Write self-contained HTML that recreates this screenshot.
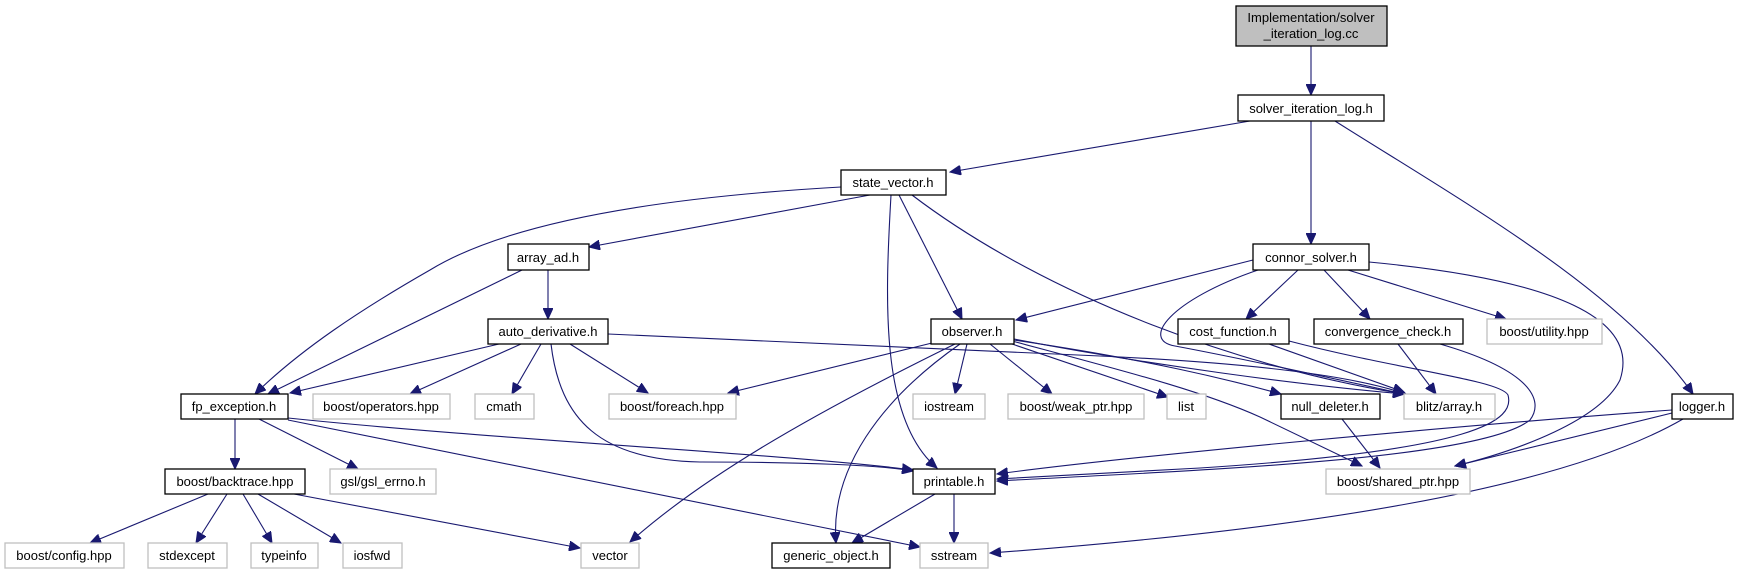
<!DOCTYPE html>
<html><head><meta charset="utf-8"><style>
html,body{margin:0;padding:0;background:#fff;}
svg{display:block;}
text{font-family:"Liberation Sans",sans-serif;font-size:13px;fill:#000;text-anchor:middle;}
.b{fill:#fff;stroke:#000;stroke-width:1.3;}
.g{fill:#fff;stroke:#bfbfbf;stroke-width:1.3;}
.e{fill:none;stroke:#191970;stroke-width:1.1;marker-end:url(#a);}
</style></head><body>
<svg width="1745" height="575" viewBox="0 0 1745 575" xmlns="http://www.w3.org/2000/svg">
<defs><marker id="a" markerUnits="userSpaceOnUse" markerWidth="12" markerHeight="10" refX="11" refY="5" orient="auto"><path d="M0,0 L11,5 L0,10 z" fill="#191970" stroke="#191970"/></marker></defs>
<g>
<path class="e" d="M1311 46 L1311 95"/>
<path class="e" d="M1250 121 L950 172"/>
<path class="e" d="M1311 121 L1311 244"/>
<path class="e" d="M1335 121 C1460 200, 1620 290, 1693 394"/>
<path class="e" d="M841 187 C700 195, 520 215, 430 270 C360 310, 300 350, 255 394"/>
<path class="e" d="M870 195 L589 247"/>
<path class="e" d="M891 195 C885 300, 880 420, 937 468"/>
<path class="e" d="M899 195 L962 319"/>
<path class="e" d="M912 195 C1050 300, 1250 370, 1405 394"/>
<path class="e" d="M548 270 L548 319"/>
<path class="e" d="M522 270 L268 394"/>
<path class="e" d="M499 344 L290 393"/>
<path class="e" d="M521 344 L410 394"/>
<path class="e" d="M541 344 L512 394"/>
<path class="e" d="M570 344 L648 393"/>
<path class="e" d="M551 344 C560 420, 600 460, 700 462 C800 462, 880 465, 913 471"/>
<path class="e" d="M608 334 L1100 356 C1250 363, 1350 375, 1406 394"/>
<path class="e" d="M1253 260 L1016 320"/>
<path class="e" d="M1258 270 C1170 300, 1140 340, 1175 346 C1250 360, 1340 380, 1404 394"/>
<path class="e" d="M1298 270 L1246 319"/>
<path class="e" d="M1324 270 L1370 319"/>
<path class="e" d="M1348 270 L1506 319"/>
<path class="e" d="M1369 262 C1560 280, 1640 320, 1620 380 C1600 420, 1520 450, 1455 466"/>
<path class="e" d="M932 343 L728 393"/>
<path class="e" d="M955 344 C800 420, 700 480, 630 542"/>
<path class="e" d="M960 344 C880 400, 830 470, 836 543"/>
<path class="e" d="M967 344 L955 394"/>
<path class="e" d="M990 344 L1052 394"/>
<path class="e" d="M1012 344 L1168 397"/>
<path class="e" d="M1014 340 C1150 360, 1230 380, 1281 394"/>
<path class="e" d="M1014 339 C1150 365, 1300 385, 1404 394"/>
<path class="e" d="M1012 341 C1120 370, 1200 390, 1260 417 L1362 466"/>
<path class="e" d="M1269 344 L1404 392"/>
<path class="e" d="M1289 341 C1400 370, 1500 380, 1508 395 C1515 420, 1480 450, 1200 468 L997 479"/>
<path class="e" d="M1398 344 L1436 394"/>
<path class="e" d="M1440 344 C1530 370, 1545 400, 1530 420 C1480 460, 1200 470, 997 481"/>
<path class="e" d="M235 419 L235 469"/>
<path class="e" d="M259 419 L358 469"/>
<path class="e" d="M288 418 C500 440, 800 455, 913 470"/>
<path class="e" d="M288 420 L920 547"/>
<path class="e" d="M208 494 L90 543"/>
<path class="e" d="M227 494 L196 543"/>
<path class="e" d="M243 494 L272 543"/>
<path class="e" d="M258 494 L341 543"/>
<path class="e" d="M294 494 L580 548"/>
<path class="e" d="M1342 419 L1380 468"/>
<path class="e" d="M1672 410 C1400 430, 1100 460, 997 474"/>
<path class="e" d="M1672 413 L1455 466"/>
<path class="e" d="M1683 419 C1560 490, 1300 530, 990 553"/>
<path class="e" d="M935 494 L852 543"/>
<path class="e" d="M954 494 L954 543"/>
</g>
<g>
<rect x="1236" y="6" width="151" height="40" fill="#bfbfbf" stroke="#000" stroke-width="1.3"/>
<text x="1311" y="22">Implementation/solver</text><text x="1311" y="38">_iteration_log.cc</text>
<rect class="b" x="1238" y="95" width="146" height="26"/><text x="1311" y="113">solver_iteration_log.h</text>
<rect class="b" x="841" y="170" width="105" height="25"/><text x="893" y="187">state_vector.h</text>
<rect class="b" x="508" y="244" width="81" height="26"/><text x="548" y="262">array_ad.h</text>
<rect class="b" x="1253" y="244" width="116" height="26"/><text x="1311" y="262">connor_solver.h</text>
<rect class="b" x="488" y="319" width="120" height="25"/><text x="548" y="336">auto_derivative.h</text>
<rect class="b" x="931" y="319" width="83" height="25"/><text x="972" y="336">observer.h</text>
<rect class="b" x="1178" y="319" width="111" height="25"/><text x="1233" y="336">cost_function.h</text>
<rect class="b" x="1314" y="319" width="149" height="25"/><text x="1388" y="336">convergence_check.h</text>
<rect class="g" x="1487" y="319" width="115" height="25"/><text x="1544" y="336">boost/utility.hpp</text>
<rect class="b" x="181" y="394" width="107" height="25"/><text x="234" y="411">fp_exception.h</text>
<rect class="g" x="313" y="394" width="137" height="25"/><text x="381" y="411">boost/operators.hpp</text>
<rect class="g" x="475" y="394" width="59" height="25"/><text x="504" y="411">cmath</text>
<rect class="g" x="609" y="394" width="127" height="25"/><text x="672" y="411">boost/foreach.hpp</text>
<rect class="g" x="913" y="394" width="72" height="25"/><text x="949" y="411">iostream</text>
<rect class="g" x="1008" y="394" width="136" height="25"/><text x="1076" y="411">boost/weak_ptr.hpp</text>
<rect class="g" x="1167" y="394" width="39" height="25"/><text x="1186" y="411">list</text>
<rect class="b" x="1281" y="394" width="99" height="25"/><text x="1330" y="411">null_deleter.h</text>
<rect class="g" x="1404" y="394" width="91" height="25"/><text x="1449" y="411">blitz/array.h</text>
<rect class="b" x="1672" y="394" width="61" height="25"/><text x="1702" y="411">logger.h</text>
<rect class="b" x="165" y="469" width="140" height="25"/><text x="235" y="486">boost/backtrace.hpp</text>
<rect class="g" x="330" y="469" width="106" height="25"/><text x="383" y="486">gsl/gsl_errno.h</text>
<rect class="b" x="913" y="469" width="82" height="25"/><text x="954" y="486">printable.h</text>
<rect class="g" x="1326" y="469" width="144" height="25"/><text x="1398" y="486">boost/shared_ptr.hpp</text>
<rect class="g" x="5" y="543" width="119" height="25"/><text x="64" y="560">boost/config.hpp</text>
<rect class="g" x="148" y="543" width="79" height="25"/><text x="187" y="560">stdexcept</text>
<rect class="g" x="251" y="543" width="67" height="25"/><text x="284" y="560">typeinfo</text>
<rect class="g" x="343" y="543" width="59" height="25"/><text x="372" y="560">iosfwd</text>
<rect class="g" x="581" y="543" width="58" height="25"/><text x="610" y="560">vector</text>
<rect class="b" x="772" y="543" width="118" height="25"/><text x="831" y="560">generic_object.h</text>
<rect class="g" x="920" y="543" width="68" height="25"/><text x="954" y="560">sstream</text>
</g>
</svg>
</body></html>
